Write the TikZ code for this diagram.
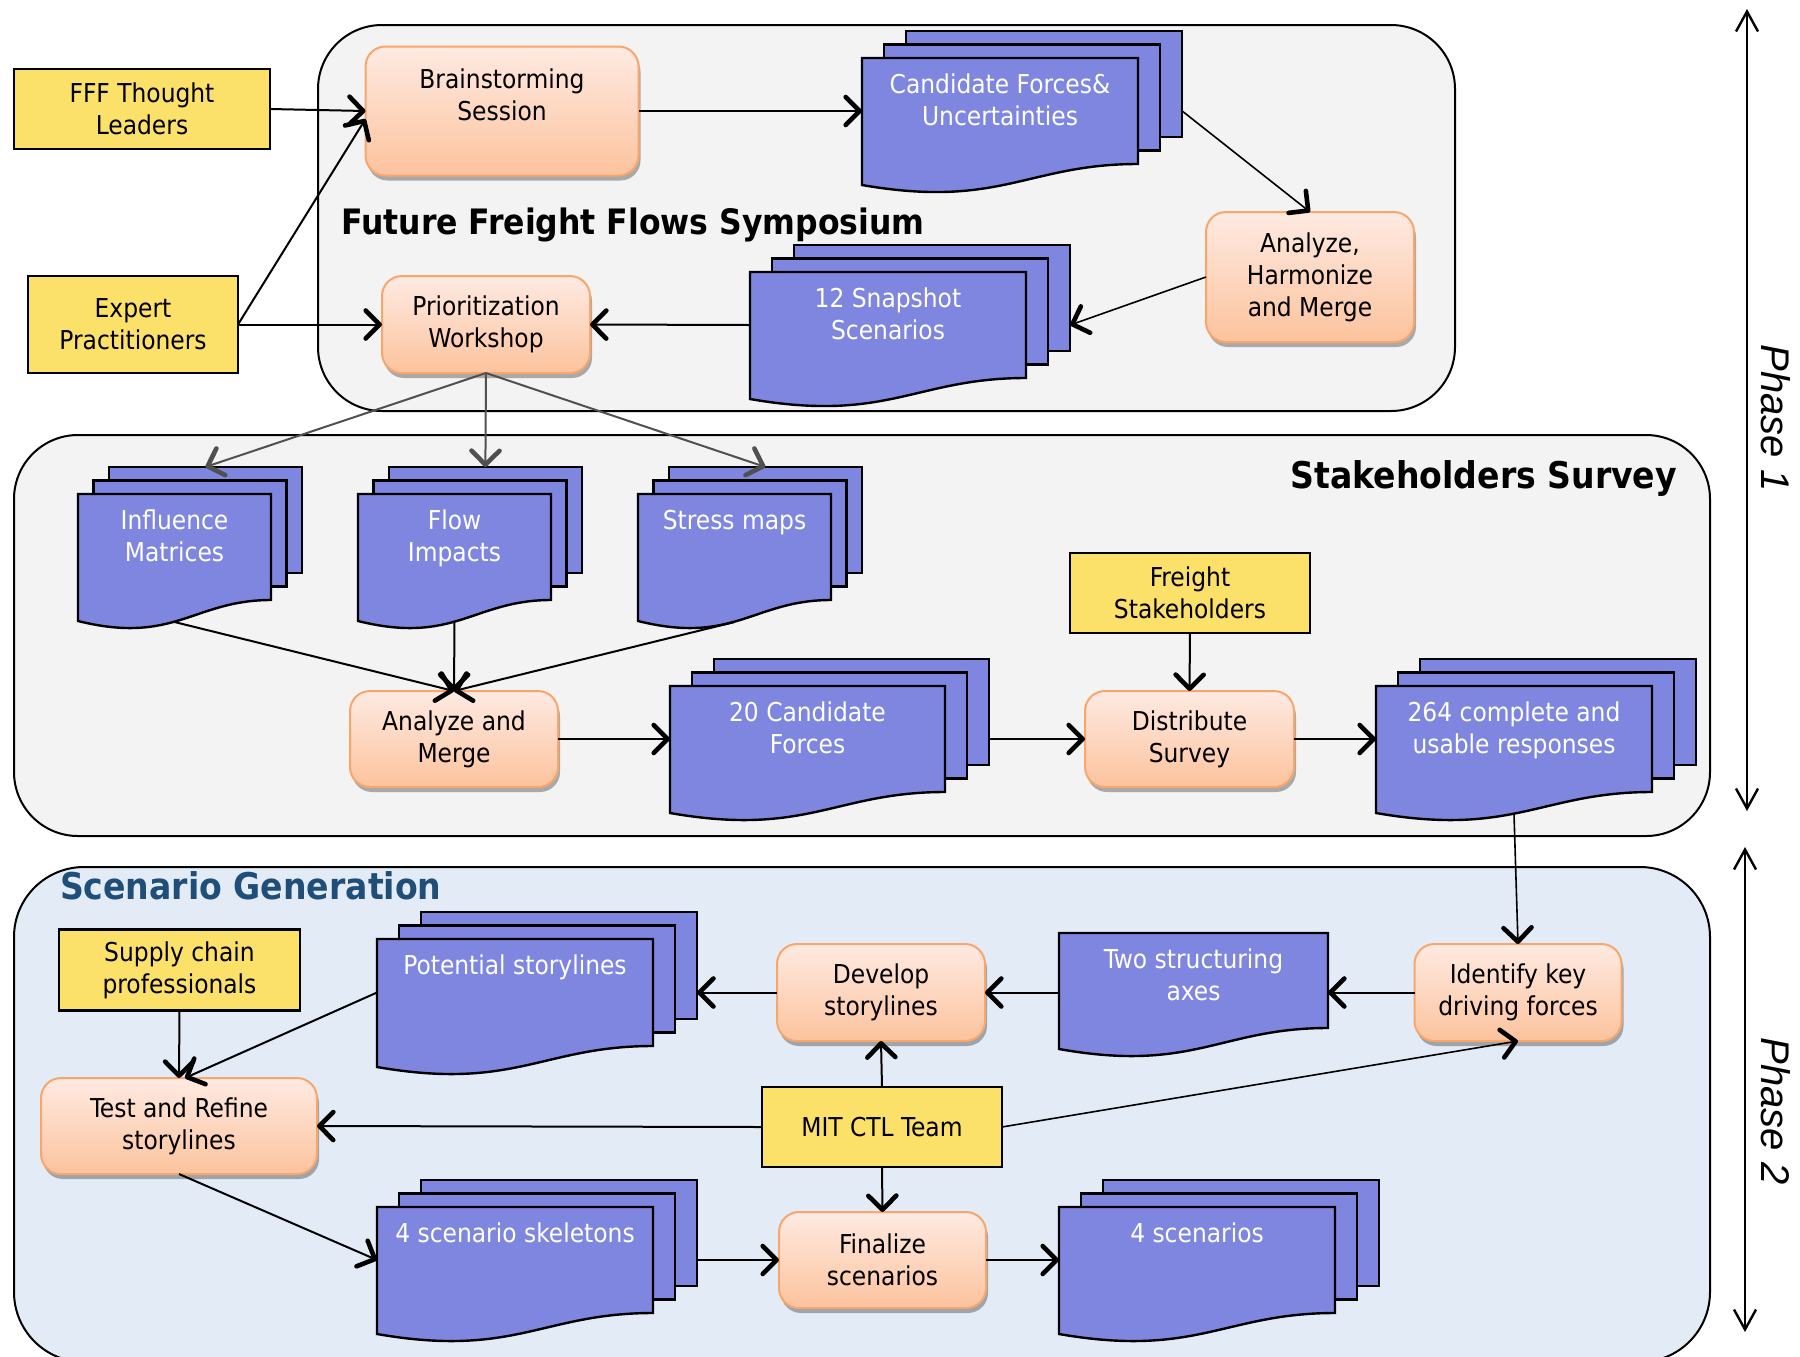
\documentclass[tikz,border=0pt]{standalone}
\usepackage{fontspec}
\setmainfont{DejaVu Sans Condensed}
\newfontfamily\phasefont{Liberation Sans}
\usetikzlibrary{arrows.meta,shadows}

\definecolor{grpgray}{HTML}{F3F3F3}
\definecolor{grpblue}{HTML}{E3ECF6}
\definecolor{yel}{HTML}{FBE16A}
\definecolor{docblue}{HTML}{7F86DF}
\definecolor{orbord}{HTML}{F9A66C}
\definecolor{ortop}{HTML}{FEEAE2}
\definecolor{orbot}{HTML}{FCC39D}
\definecolor{titleblue}{HTML}{1F4E79}
\definecolor{arrgray}{HTML}{505050}

\tikzset{
  every node/.style={inner sep=0pt, outer sep=0pt},
  lbl/.style={font=\fontsize{13}{16}\selectfont, align=center},
  sz/.style 2 args={minimum width=#1*0.5pt, minimum height=#2*0.5pt},
  group/.style={draw=black, line width=1pt, rounded corners=32pt},
  proc/.style={lbl, draw=orbord, line width=1pt, rounded corners=10pt,
    top color=ortop, bottom color=orbot,
    drop shadow={shadow xshift=1pt, shadow yshift=-2.5pt, opacity=0.3, fill=black}},
  actor/.style={lbl, draw=black, line width=1.2pt, fill=yel},
  docpg/.style={draw=black, line width=1.2pt, fill=docblue},
  doctxt/.style={lbl, text=white, anchor=north},
  grptitle/.style={font=\bfseries\fontsize{17.5}{20}\selectfont},
  grptitleb/.style={font=\bfseries\fontsize{18.4}{21}\selectfont},
  arr/.style={line width=1pt, -{Straight Barb[length=7pt,width=14pt,line width=2.3pt,round]}},
  thinarr/.style={arr, line width=0.8pt},
  grayarr/.style={arr, draw=arrgray},
  phasearr/.style={line width=0.9pt,
    {Straight Barb[length=10pt,width=11pt,line width=1.2pt]}-{Straight Barb[length=10pt,width=11pt,line width=1.2pt]}},
  phasetxt/.style={font=\phasefont\itshape\fontsize{20}{24}\selectfont, rotate=-90},
}

% page with wavy bottom: x1, top, w, h
\newcommand{\docwave}[4]{%
  \filldraw[docpg] (#1,#2) -- (#1+#3,#2) -- (#1+#3,#2+#4)
    .. controls +(-0.4*#3,0) and +(0.5*#3,24) .. (#1,#2+#4+21) -- cycle;
}
% stack of three pages: name, x1, top, w, h, text
\newcommand{\docstack}[6]{%
  \pgfmathsetmacro{\dsx}{0.08*#4}
  \filldraw[docpg] (#2+2*\dsx,#3-27) rectangle (#2+2*\dsx+#4,#3-27+#5);
  \filldraw[docpg] (#2+\dsx,#3-13.5) rectangle (#2+\dsx+#4,#3-13.5+#5);
  \docwave{#2}{#3}{#4}{#5}
  \node[sz={#4}{#5}] (#1) at (#2+#4/2,#3+#5/2) {};
  \node[sz={#4}{#5}] (#1-back) at (#2+2*\dsx+#4/2,#3-27+#5/2) {};
  \coordinate (#1-r) at (#1-back.east |- #1.east);
  \coordinate (#1-b) at (#2+#4/2,#3+#5+22);
  \node[doctxt] (#1-t) at (#2+#4/2,#3+16) {#6};
}

\begin{document}
\begin{tikzpicture}[x=0.5pt,y=-0.5pt]
\useasboundingbox (0,0) rectangle (1800,1356);

% group boxes
\draw[group, fill=grpgray] (318,25) rectangle (1455,411);
\draw[group, fill=grpgray] (14,435) rectangle (1710,836);
\draw[group, fill=grpblue, rounded corners=35pt] (14,867) rectangle (1710,1362);

% titles
\node[grptitle] (symt) at (633,225) {Future Freight Flows Symposium};
\node[grptitleb, anchor=east] (sst) at (1677,478) {Stakeholders Survey};
\node[grptitleb, text=titleblue, anchor=west] (sgt) at (60,886) {Scenario Generation};

% documents
\docstack{cf}{862}{58}{276}{106}{Candidate Forces\&\\Uncertainties}
\docstack{ss}{750}{272}{276}{106}{12 Snapshot\\Scenarios}
\docstack{im}{78}{494}{193}{106}{Influence\\Matrices}
\docstack{fi}{358}{494}{193}{106}{Flow\\Impacts}
\docstack{sm}{638}{494}{193}{106}{Stress maps}
\docstack{cand}{670}{686}{275}{106}{20 Candidate\\Forces}
\docstack{resp}{1376}{686}{276}{106}{264 complete and\\usable responses}
\docstack{ps}{377}{939}{276}{107}{Potential storylines}
\docstack{sk}{377}{1207}{276}{106}{4 scenario skeletons}
\docstack{scn}{1059}{1207}{276}{106}{4 scenarios}
\docwave{1059}{933}{269}{95}
\node[sz={269}{95}] (tsa) at (1193.5,980.5) {};
\node[doctxt] (tsa-t) at (1193.5,949) {Two structuring\\axes};

% process steps
\node[proc, sz={273}{129}] (bs) at (502,111) {Brainstorming\\Session\\\mbox{}};
\node[proc, sz={208}{97}] (pw) at (486,324.5) {Prioritization\\Workshop};
\node[proc, sz={208}{130}] (ahm) at (1310,277) {Analyze,\\Harmonize\\and Merge};
\node[proc, sz={208}{96}] (am) at (454,739) {Analyze and\\Merge};
\node[proc, sz={209}{96}] (ds) at (1189.5,739) {Distribute\\Survey};
\node[proc, sz={208}{97}] (dev) at (881,992.5) {Develop\\storylines};
\node[proc, sz={207}{97}] (ikd) at (1518,992.5) {Identify key\\driving forces};
\node[proc, sz={276}{96}] (tr) at (179,1126) {Test and Refine\\storylines};
\node[proc, sz={207}{96}] (fin) at (882.5,1260) {Finalize\\scenarios};

% actors
\node[actor, sz={256}{80}] (fff) at (142,109) {FFF Thought\\Leaders};
\node[actor, sz={210}{97}] (exp) at (133,324.5) {Expert\\Practitioners};
\node[actor, sz={240}{80}] (fs) at (1190,593) {Freight\\Stakeholders};
\node[actor, sz={241}{81}] (scp) at (179.5,970) {Supply chain\\professionals};
\node[actor, sz={240}{80}] (mit) at (882,1127) {MIT CTL Team};

% phase labels
\coordinate (p1a) at (1747,9);
\coordinate (p1b) at (1747,811);
\coordinate (p2a) at (1745,847);
\coordinate (p2b) at (1745,1332);
\draw[phasearr] (p1a) -- (p1b);
\draw[phasearr] (p2a) -- (p2b);
\node[phasetxt] (ph1) at (1776,418) {Phase 1};
\node[phasetxt] (ph2) at (1776,1111) {Phase 2};

% connectors
\draw[arr] (fff.east) -- (bs.west);
\draw[arr] (exp.east) -- ([yshift=-4pt]bs.west);
\draw[arr] (exp.east) -- (pw.west);
\draw[arr] (bs.east) -- (cf.west);
\draw[thinarr] (cf-r) -- (ahm.north);
\draw[thinarr] (ahm.west) -- (ss-r);
\draw[arr] (ss.west) -- (pw.east);
\draw[grayarr] (pw.south) -- (im-back.north);
\draw[grayarr] (pw.south) -- (fi-back.north);
\draw[grayarr] (pw.south) -- (sm-back.north);
\draw[arr] (im-b) -- (am.north);
\draw[arr] (fi-b) -- (am.north);
\draw[arr] (sm-b) -- (am.north);
\draw[arr] (am.east) -- (cand.west);
\draw[arr] (cand-r) -- (ds.west);
\draw[arr] (fs.south) -- (ds.north);
\draw[arr] (ds.east) -- (resp.west);
\draw[thinarr] (resp-b) -- (ikd.north);
\draw[arr] (ikd.west) -- (ikd.west -| tsa.east);
\draw[arr] (tsa.west |- dev.east) -- (dev.east);
\draw[arr] (dev.west) -- (ps-r);
\draw[arr] (ps.west) -- ([xshift=3pt]tr.north);
\draw[arr] (scp.south) -- (tr.north);
\draw[arr] (mit.west) -- (tr.east);
\draw[arr] (mit.north) -- (dev.south);
\draw[thinarr] (mit.east) -- (ikd.south);
\draw[arr] (mit.south) -- (fin.north);
\draw[arr] (tr.south) -- (sk.west);
\draw[arr] (sk-r) -- (fin.west);
\draw[arr] (fin.east) -- (scn.west);
\end{tikzpicture}
\end{document}
